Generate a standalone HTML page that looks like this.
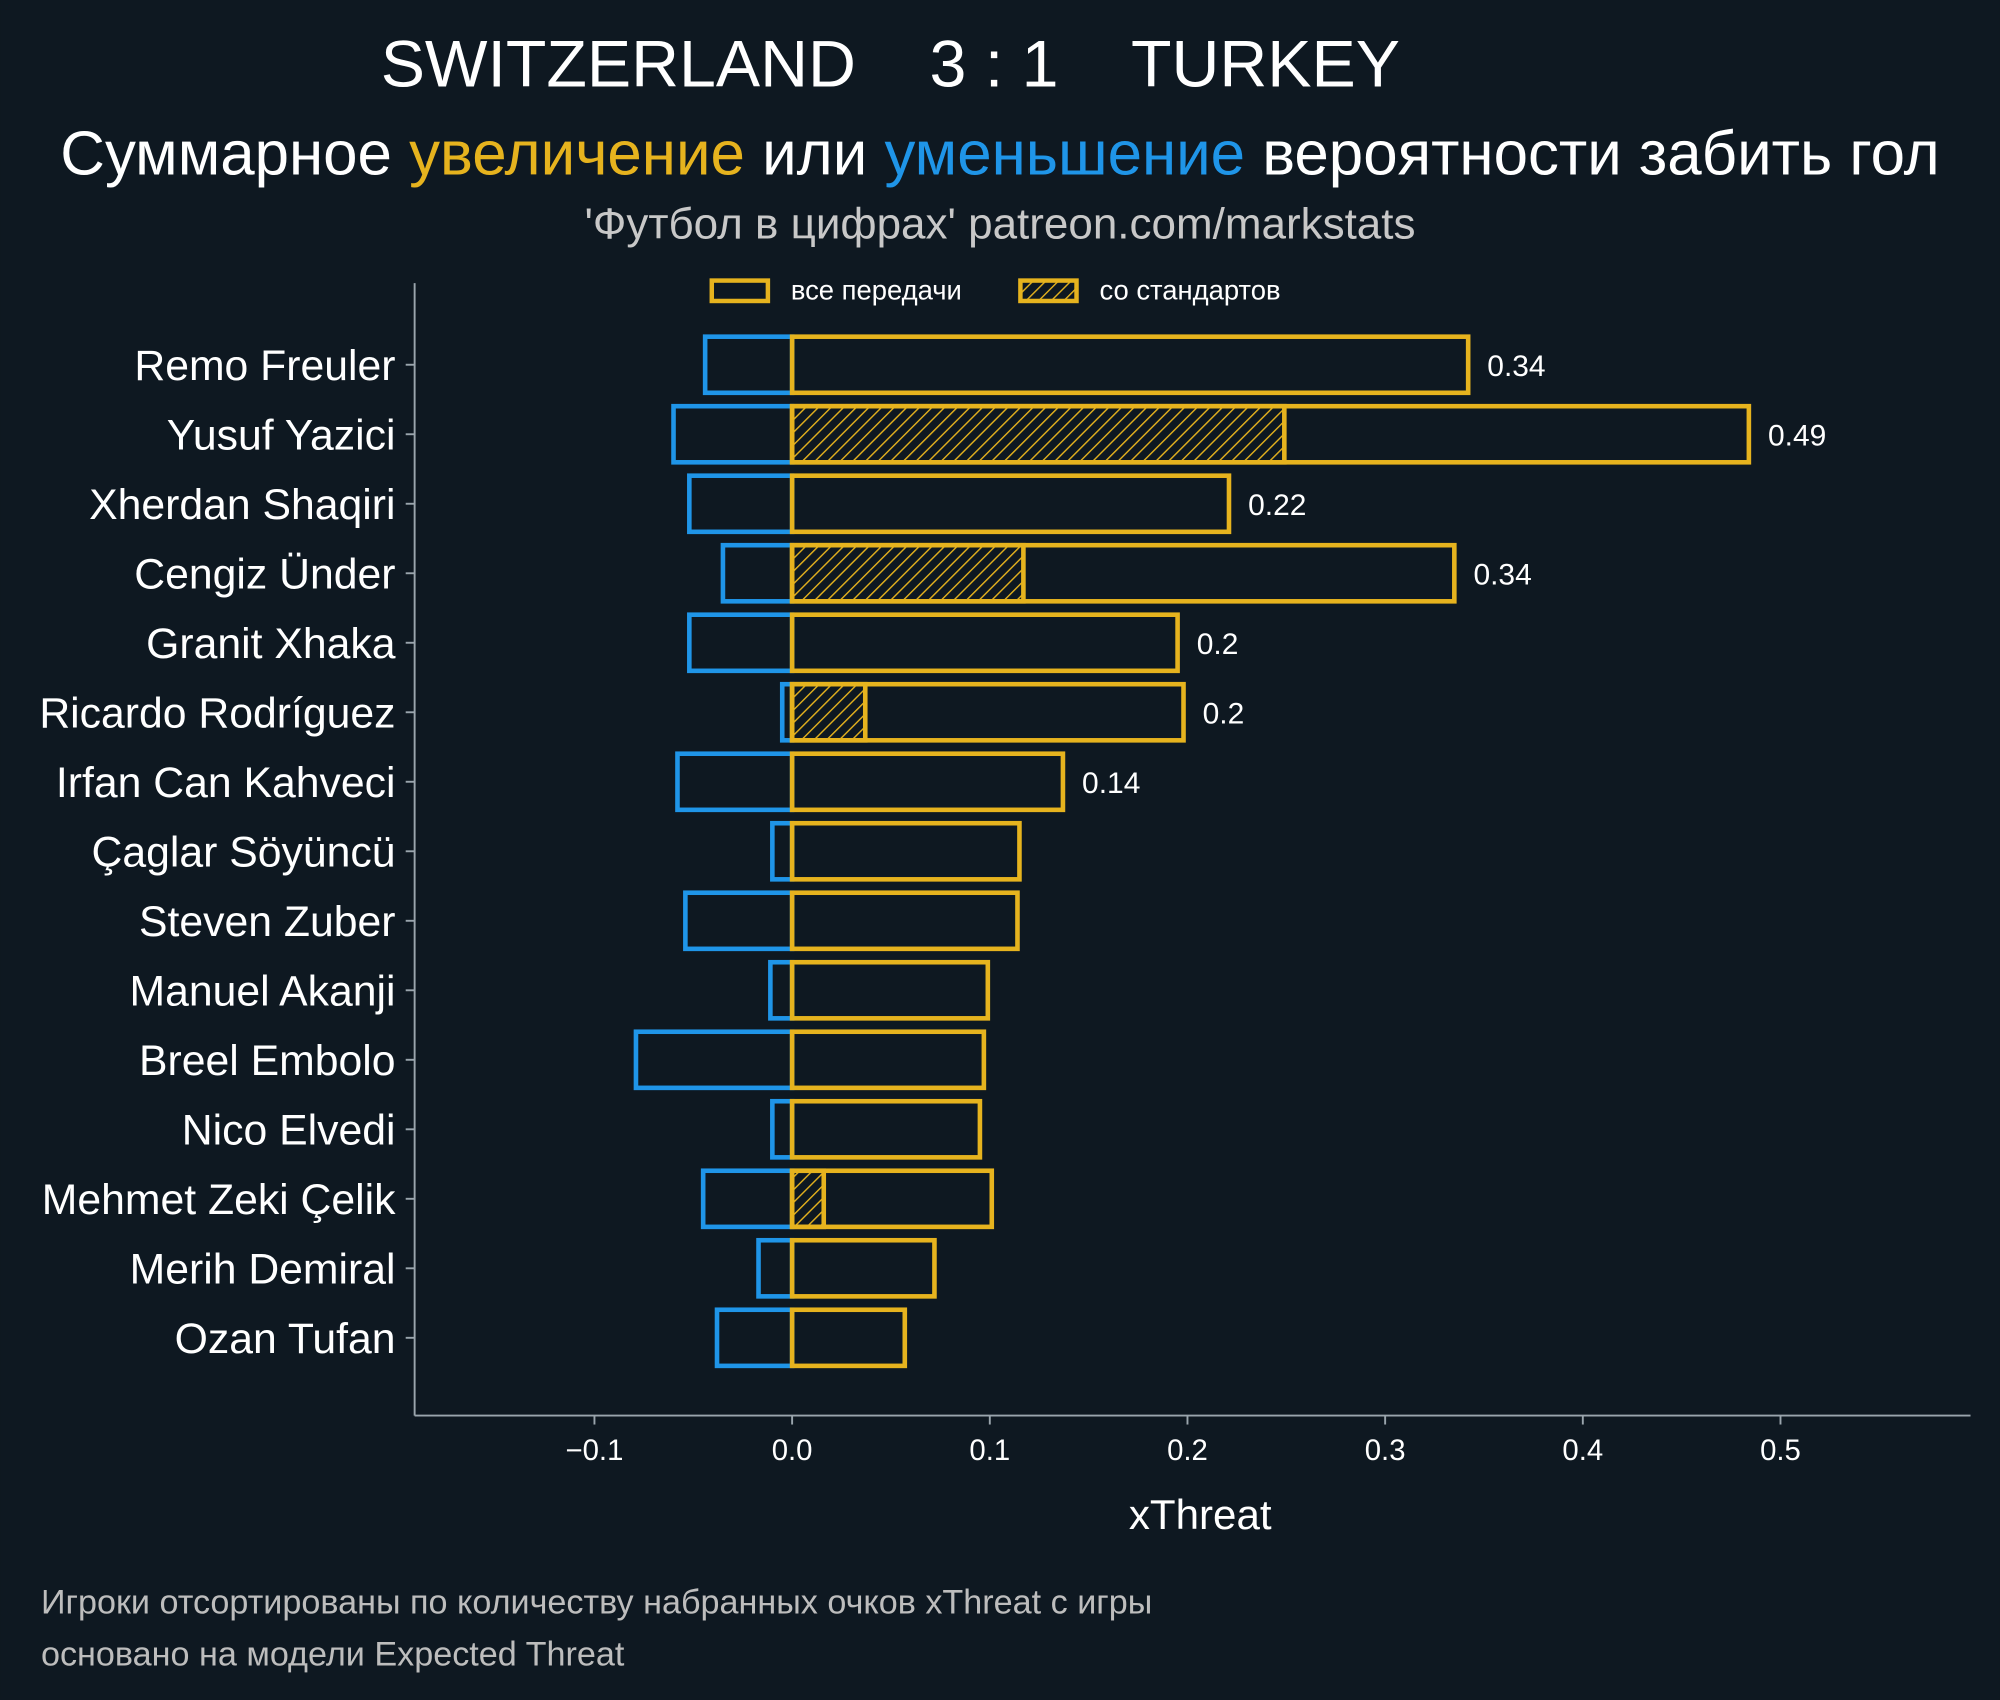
<!DOCTYPE html>
<html><head><meta charset="utf-8"><style>
html,body{margin:0;padding:0;background:#0e1821;}
svg{display:block;font-family:"Liberation Sans","DejaVu Sans",sans-serif;}
</style></head><body>
<svg id="chart" width="2000" height="1700" viewBox="0 0 1568 1333" xmlns="http://www.w3.org/2000/svg">
<defs>
<pattern id="hatch" patternUnits="userSpaceOnUse" width="7" height="7" patternTransform="rotate(45)">
<line x1="0" y1="0" x2="0" y2="7" stroke="#e6b31e" stroke-width="2.2"/>
</pattern>
</defs>
<rect width="1568" height="1333" fill="#0e1821"/>
<text x="698" y="68" text-anchor="middle" font-size="52" fill="#ffffff" xml:space="preserve">SWITZERLAND    3 : 1    TURKEY</text>
<text x="784" y="137" text-anchor="middle" font-size="48.5" fill="#ffffff">Суммарное <tspan fill="#e6b31e">увеличение</tspan> или <tspan fill="#1f95e8">уменьшение</tspan> вероятности забить гол</text>
<text x="784" y="187" text-anchor="middle" font-size="34.5" fill="#c8c8c8">'Футбол в цифрах' patreon.com/markstats</text>
<g>
<rect x="558" y="220" width="44" height="16" fill="none" stroke="#e6b31e" stroke-width="3.5"/>
<text x="620" y="235" font-size="21.5" fill="#ffffff">все передачи</text>
<rect x="800" y="220" width="44" height="16" fill="url(#hatch)" stroke="#e6b31e" stroke-width="3.5"/>
<text x="862" y="235" font-size="21.5" fill="#ffffff">со стандартов</text>
</g>
<line x1="325" y1="222" x2="325" y2="1110" stroke="#9aa5ad" stroke-width="1.5"/>
<line x1="325" y1="1110" x2="1545" y2="1110" stroke="#9aa5ad" stroke-width="1.5"/>
<g id="plot"></g>
<text x="941" y="1199" text-anchor="middle" font-size="33" fill="#ffffff">xThreat</text>
<text x="32" y="1265" font-size="26.8" fill="#bdbdbd">Игроки отсортированы по количеству набранных очков xThreat с игры</text>
<text x="32" y="1306" font-size="26.8" fill="#bdbdbd">основано на модели Expected Threat</text>
</svg>
<script>
const players = ["Remo Freuler","Yusuf Yazici","Xherdan Shaqiri","Cengiz Ünder","Granit Xhaka","Ricardo Rodríguez","Irfan Can Kahveci","Çaglar Söyüncü","Steven Zuber","Manuel Akanji","Breel Embolo","Nico Elvedi","Mehmet Zeki Çelik","Merih Demiral","Ozan Tufan"];
const positive = [0.342,0.484,0.221,0.335,0.195,0.198,0.137,0.115,0.114,0.099,0.097,0.095,0.101,0.072,0.057];
const negative = [-0.044,-0.060,-0.052,-0.035,-0.052,-0.005,-0.058,-0.010,-0.054,-0.011,-0.079,-0.010,-0.045,-0.017,-0.038];
const setPiece = [0,0.249,0,0.117,0,0.037,0,0,0,0,0,0,0.016,0,0];
const valueLabels = ["0.34","0.49","0.22","0.34","0.2","0.2","0.14","","","","","","","",""];
const xTicks = [-0.1,0,0.1,0.2,0.3,0.4,0.5];
const xTickLabels = ["−0.1","0.0","0.1","0.2","0.3","0.4","0.5"];

const NS="http://www.w3.org/2000/svg";
const g=document.getElementById('plot');
const x=v=>621+v*1550;
const y=i=>286+i*54.5;
const bh=44;
function mk(t,a){const e=document.createElementNS(NS,t);for(const k in a)e.setAttribute(k,a[k]);g.appendChild(e);return e;}
players.forEach((p,i)=>{
  let e=mk('rect',{x:x(negative[i]),y:y(i)-bh/2,width:x(0)-x(negative[i]),height:bh,fill:'none',stroke:'#1f95e8','stroke-width':3.6});
  
  
  if(setPiece[i]>0){
    e=mk('rect',{x:x(0),y:y(i)-bh/2,width:x(setPiece[i])-x(0),height:bh,fill:'url(#hatch)',stroke:'#e6b31e','stroke-width':3.6});
    
    
  }
  e=mk('rect',{x:x(0),y:y(i)-bh/2,width:x(positive[i])-x(0),height:bh,fill:'none',stroke:'#e6b31e','stroke-width':3.6});
  
  
  if(valueLabels[i]){
    e=mk('text',{x:x(positive[i])+15,y:y(i)+9,'font-size':23.5,fill:'#ffffff'});
    e.textContent=valueLabels[i];
    
    
  }
  e=mk('line',{x1:318,x2:325,y1:y(i),y2:y(i),stroke:'#9aa5ad','stroke-width':1.5});
  
  
  e=mk('text',{x:310,y:y(i)+12,'text-anchor':'end','font-size':33.5,fill:'#ffffff'});
  e.textContent=p;
  
  
});
xTicks.forEach((t,i)=>{
  let e=mk('line',{x1:x(t),x2:x(t),y1:1110,y2:1117,stroke:'#9aa5ad','stroke-width':1.5});
  
  
  e=mk('text',{x:x(t),y:1145,'text-anchor':'middle','font-size':23,fill:'#ffffff'});
  e.textContent=xTickLabels[i];
  
  
});
</script>
</body></html>
